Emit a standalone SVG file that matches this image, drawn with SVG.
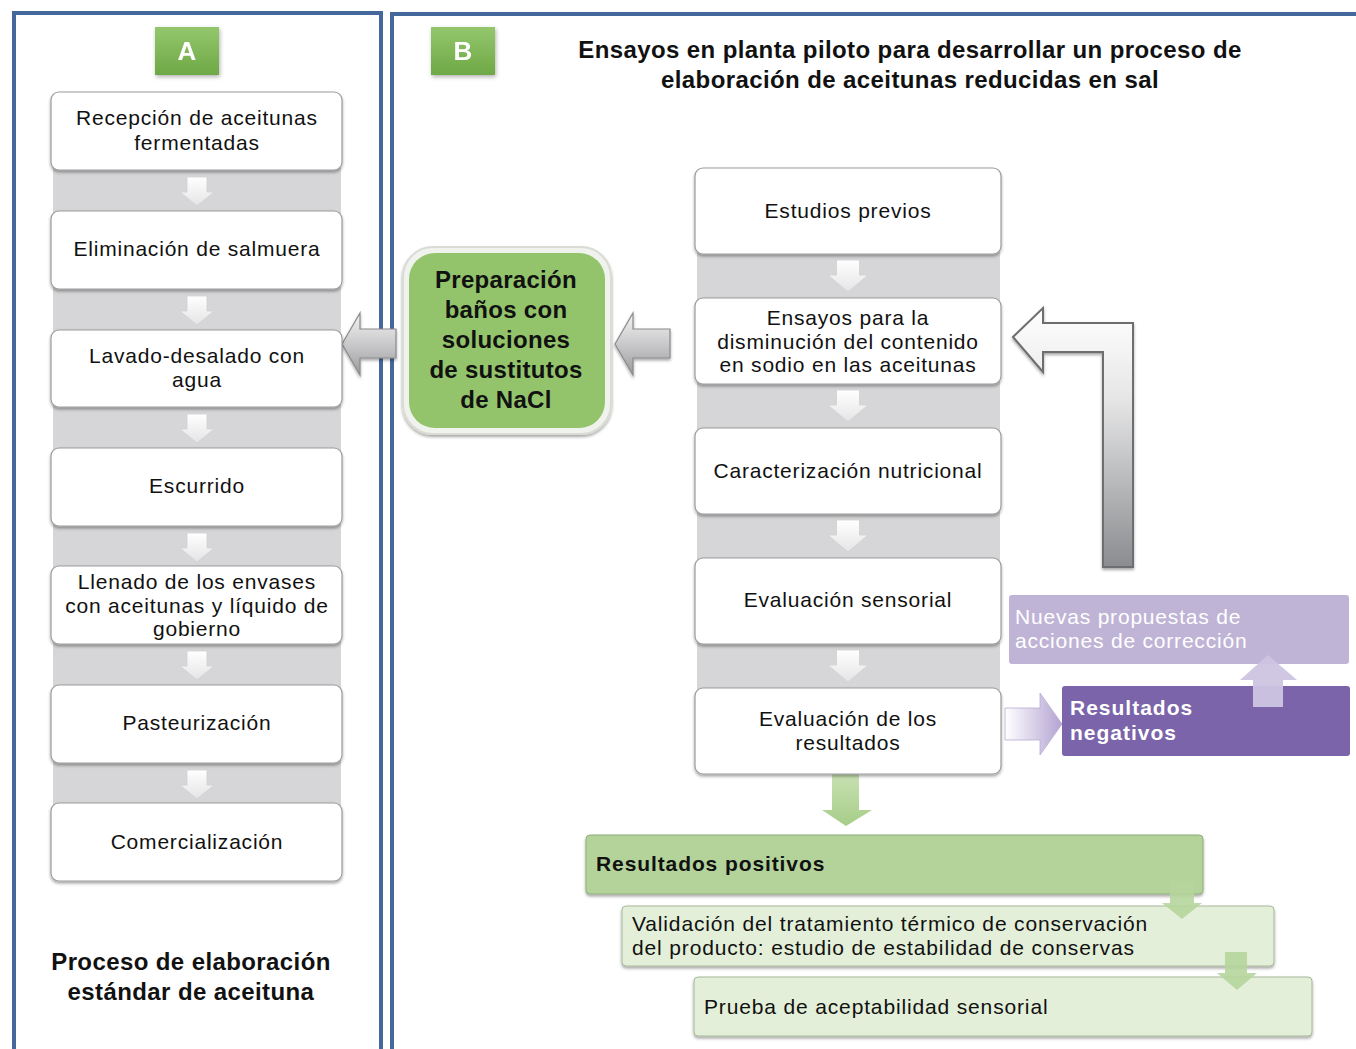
<svg xmlns="http://www.w3.org/2000/svg" width="1356" height="1049" viewBox="0 0 1356 1049">
<defs>
<style>
.t{font-family:"Liberation Sans",Arial,sans-serif;font-size:21px;fill:#111;letter-spacing:0.8px}
.c{text-anchor:middle}
.b{font-weight:bold;letter-spacing:0.3px}
.h{font-size:24px;letter-spacing:0.4px}
.box{fill:#fff;stroke:#9c9c9c;stroke-width:1.2}
.panel{fill:none;stroke:#44679c;stroke-width:4}
.strip{fill:#d6d6d8}
.sa{fill:url(#gSmall);stroke:#d0d0d0;stroke-width:0.8}
</style>
<linearGradient id="gSmall" x1="0" y1="0" x2="0" y2="1"><stop offset="0" stop-color="#ffffff"/><stop offset="1" stop-color="#e4e4e6"/></linearGradient>
<linearGradient id="gLab" x1="0" y1="0" x2="0" y2="1"><stop offset="0" stop-color="#94c76d"/><stop offset="1" stop-color="#6ea845"/></linearGradient>
<linearGradient id="gGrayArr" x1="0" y1="0" x2="0" y2="1"><stop offset="0" stop-color="#f4f4f4"/><stop offset="0.5" stop-color="#c9c9cb"/><stop offset="1" stop-color="#9a9b9d"/></linearGradient>
<linearGradient id="gL" x1="0" y1="0" x2="0" y2="1"><stop offset="0" stop-color="#ffffff"/><stop offset="0.35" stop-color="#e6e6e7"/><stop offset="1" stop-color="#8a8c8f"/></linearGradient>
<linearGradient id="gPur" x1="0" y1="0" x2="1" y2="0"><stop offset="0" stop-color="#ffffff"/><stop offset="1" stop-color="#b3a3d2"/></linearGradient>
<linearGradient id="gGreen" x1="0" y1="0" x2="0" y2="1"><stop offset="0" stop-color="#c9e2b4"/><stop offset="1" stop-color="#a6cd88"/></linearGradient>
<filter id="sh" x="-10%" y="-10%" width="120%" height="130%"><feDropShadow dx="0" dy="2" stdDeviation="1.6" flood-color="#000" flood-opacity="0.35"/></filter>
<filter id="sh2" x="-10%" y="-10%" width="120%" height="130%"><feDropShadow dx="1" dy="2" stdDeviation="2" flood-color="#000" flood-opacity="0.3"/></filter>
</defs>

<g id="panels">
<rect class="panel" x="14" y="13" width="367" height="1060"/>
<rect class="panel" x="392" y="14" width="990" height="1060"/>
</g>

<g id="labelA" filter="url(#sh2)"><rect x="155" y="27" width="64" height="48" fill="url(#gLab)"/><text class="t b c" x="187" y="60" style="font-size:26px;fill:#fff">A</text></g>
<g id="labelB" filter="url(#sh2)"><rect x="431" y="27" width="64" height="48" fill="url(#gLab)"/><text class="t b c" x="463" y="60" style="font-size:26px;fill:#fff">B</text></g>

<g id="title"><text class="t b c h" x="910" y="58">Ensayos en planta piloto para desarrollar un proceso de</text><text class="t b c h" x="910" y="88">elaboración de aceitunas reducidas en sal</text></g>

<g id="captionA"><text class="t b c h" x="191" y="970">Proceso de elaboración</text><text class="t b c h" x="191" y="1000">estándar de aceituna</text></g>

<rect class="strip" x="53" y="130" width="288" height="720"/>
<rect class="strip" x="697" y="210" width="303" height="480"/>

<g id="connectors">
<path class="sa" d="M187,177h20v15h7l-17,14l-17,-14h7z"/>
<path class="sa" d="M187,296h20v15h7l-17,14l-17,-14h7z"/>
<path class="sa" d="M187,414h20v15h7l-17,14l-17,-14h7z"/>
<path class="sa" d="M187,533h20v15h7l-17,14l-17,-14h7z"/>
<path class="sa" d="M187,651h20v15h7l-17,14l-17,-14h7z"/>
<path class="sa" d="M187,770h20v15h7l-17,14l-17,-14h7z"/>
<path class="sa" d="M836.5,260h23v15h8.5l-20,17l-20,-17h8.5z"/>
<path class="sa" d="M836.5,390h23v15h8.5l-20,17l-20,-17h8.5z"/>
<path class="sa" d="M836.5,520h23v15h8.5l-20,17l-20,-17h8.5z"/>
<path class="sa" d="M836.5,650h23v15h8.5l-20,17l-20,-17h8.5z"/>
<path d="M342,344L360,313V329H396V358H360V375Z" fill="url(#gGrayArr)" stroke="#8a8a8c" stroke-width="1.2" filter="url(#sh)"/>
<path d="M615,344L633,313V329H670V358H633V375Z" fill="url(#gGrayArr)" stroke="#8a8a8c" stroke-width="1.2" filter="url(#sh)"/>
<path d="M1013,337L1043,308V323H1133V567H1103V352H1043V372Z" fill="url(#gL)" stroke="#6d6e70" stroke-width="2" filter="url(#sh)"/>
<path d="M1005,708H1040V693L1062,724L1040,755V740H1005Z" fill="url(#gPur)" stroke="#b7a9d3" stroke-width="0.8"/>
<path d="M832,772H859V810H872L846,826L822,810H832Z" fill="url(#gGreen)"/>
</g>

<g id="a1"><rect class="box" x="51" y="92" width="291" height="78" rx="8" filter="url(#sh)"/><text class="t c" x="197" y="125">Recepción de aceitunas</text><text class="t c" x="197" y="150">fermentadas</text></g>
<g id="a2"><rect class="box" x="51" y="211" width="291" height="78" rx="8" filter="url(#sh)"/><text class="t c" x="197" y="256">Eliminación de salmuera</text></g>
<g id="a3"><rect class="box" x="51" y="330" width="291" height="77" rx="8" filter="url(#sh)"/><text class="t c" x="197" y="363">Lavado-desalado con</text><text class="t c" x="197" y="387">agua</text></g>
<g id="a4"><rect class="box" x="51" y="448" width="291" height="78" rx="8" filter="url(#sh)"/><text class="t c" x="197" y="493">Escurrido</text></g>
<g id="a5"><rect class="box" x="51" y="566" width="291" height="78" rx="8" filter="url(#sh)"/><text class="t c" x="197" y="589">Llenado de los envases</text><text class="t c" x="197" y="613">con aceitunas y líquido de</text><text class="t c" x="197" y="636">gobierno</text></g>
<g id="a6"><rect class="box" x="51" y="685" width="291" height="78" rx="8" filter="url(#sh)"/><text class="t c" x="197" y="730">Pasteurización</text></g>
<g id="a7"><rect class="box" x="51" y="803" width="291" height="78" rx="8" filter="url(#sh)"/><text class="t c" x="197" y="849">Comercialización</text></g>

<g id="b1"><rect class="box" x="695" y="168" width="306" height="86" rx="8" filter="url(#sh)"/><text class="t c" x="848" y="218">Estudios previos</text></g>
<g id="b2"><rect class="box" x="695" y="298" width="306" height="86" rx="8" filter="url(#sh)"/><text class="t c" x="848" y="325">Ensayos para la</text><text class="t c" x="848" y="349">disminución del contenido</text><text class="t c" x="848" y="372">en sodio en las aceitunas</text></g>
<g id="b3"><rect class="box" x="695" y="428" width="306" height="86" rx="8" filter="url(#sh)"/><text class="t c" x="848" y="478">Caracterización nutricional</text></g>
<g id="b4"><rect class="box" x="695" y="558" width="306" height="86" rx="8" filter="url(#sh)"/><text class="t c" x="848" y="607">Evaluación sensorial</text></g>
<g id="b5"><rect class="box" x="695" y="688" width="306" height="86" rx="8" filter="url(#sh)"/><text class="t c" x="848" y="726">Evaluación de los</text><text class="t c" x="848" y="750">resultados</text></g>

<g id="prep"><rect x="403" y="247" width="208" height="187" rx="30" fill="#f0f2ee" stroke="#d8dcd4" stroke-width="2" filter="url(#sh)"/><rect x="409" y="253" width="196" height="175" rx="26" fill="#93c46b"/>
<text class="t b c" x="506" y="288" style="font-size:24px">Preparación</text><text class="t b c" x="506" y="318" style="font-size:24px">baños con</text><text class="t b c" x="506" y="348" style="font-size:24px">soluciones</text><text class="t b c" x="506" y="378" style="font-size:24px">de sustitutos</text><text class="t b c" x="506" y="408" style="font-size:24px">de NaCl</text></g>

<g id="nuevas"><rect x="1009" y="595" width="340" height="69" rx="3" fill="#bfb4d6"/><text class="t" x="1015" y="624" style="fill:#fff">Nuevas propuestas de</text><text class="t" x="1015" y="648" style="fill:#fff">acciones de corrección</text></g>
<g id="negativos"><rect x="1062" y="686" width="288" height="70" rx="3" fill="#7b64a9"/><text class="t b" x="1070" y="715" style="fill:#fff;letter-spacing:1px">Resultados</text><text class="t b" x="1070" y="740" style="fill:#fff;letter-spacing:1px">negativos</text></g>
<path id="upArrow" d="M1253,707V680H1240L1268,655L1297,680H1283V707Z" fill="#cdc4e0" opacity="0.95"/>

<g id="positivos"><rect x="586" y="835" width="617" height="59" rx="4" fill="#b3d39b" stroke="#8fae78" stroke-width="1" filter="url(#sh)"/><text class="t b" x="596" y="871" style="letter-spacing:0.9px">Resultados positivos</text></g>
<g id="validacion"><rect x="622" y="906" width="652" height="60" rx="4" fill="#e3efd8" stroke="#a7b99a" stroke-width="1" filter="url(#sh)"/><text class="t" x="632" y="931" style="letter-spacing:0.85px">Validación del tratamiento térmico de conservación</text><text class="t" x="632" y="955" style="letter-spacing:0.85px">del producto: estudio de estabilidad de conservas</text></g>
<g id="prueba"><rect x="694" y="977" width="618" height="59" rx="4" fill="#e3efd8" stroke="#a7b99a" stroke-width="1" filter="url(#sh)"/><text class="t" x="704" y="1014" style="letter-spacing:0.85px">Prueba de aceptabilidad sensorial</text></g>

<g id="connectors2">
<path d="M1170,881H1194V903H1202L1182,919L1162,903H1170Z" fill="#b5d59c" opacity="0.9"/>
<path d="M1225,952H1247V973H1257L1237,990L1217,973H1225Z" fill="#b5d59c" opacity="0.9"/>
</g>
</svg>
